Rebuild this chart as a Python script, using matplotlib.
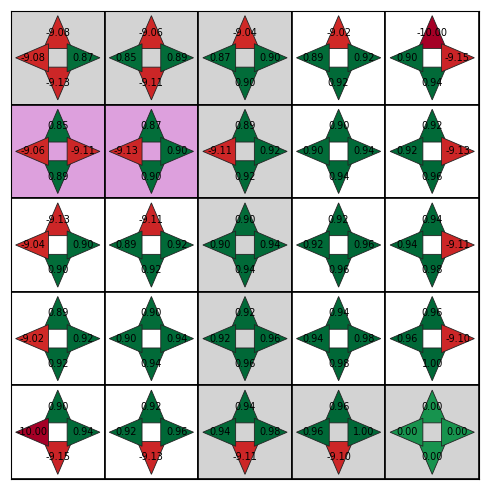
import matplotlib
matplotlib.use("Agg")
import matplotlib.pyplot as plt
import numpy as np
from matplotlib.patches import Polygon, Rectangle

# Q values per cell, rows from top to bottom
q_up = [
    [-9.08, -9.06, -9.04, -9.02, -10.00],
    [0.85, 0.87, 0.89, 0.90, 0.92],
    [-9.13, -9.11, 0.90, 0.92, 0.94],
    [0.89, 0.90, 0.92, 0.94, 0.96],
    [0.90, 0.92, 0.94, 0.96, 0.00],
]
q_down = [
    [-9.13, -9.11, 0.90, 0.92, 0.94],
    [0.89, 0.90, 0.92, 0.94, 0.96],
    [0.90, 0.92, 0.94, 0.96, 0.98],
    [0.92, 0.94, 0.96, 0.98, 1.00],
    [-9.15, -9.13, -9.11, -9.10, 0.00],
]
q_left = [
    [-9.08, 0.85, 0.87, 0.89, 0.90],
    [-9.06, -9.13, -9.11, 0.90, 0.92],
    [-9.04, 0.89, 0.90, 0.92, 0.94],
    [-9.02, 0.90, 0.92, 0.94, 0.96],
    [-10.00, 0.92, 0.94, 0.96, 0.00],
]
q_right = [
    [0.87, 0.89, 0.90, 0.92, -9.15],
    [-9.11, 0.90, 0.92, 0.94, -9.13],
    [0.90, 0.92, 0.94, 0.96, -9.11],
    [0.92, 0.94, 0.96, 0.98, -9.10],
    [0.94, 0.96, 0.98, 1.00, 0.00],
]
cell_colors = [
    ["lightgray", "lightgray", "lightgray", "white", "white"],
    ["plum", "plum", "lightgray", "white", "white"],
    ["white", "white", "lightgray", "white", "white"],
    ["white", "white", "lightgray", "white", "white"],
    ["white", "white", "lightgray", "lightgray", "lightgray"],
]

n_rows, n_cols = 5, 5
allq = np.array([q_up, q_down, q_left, q_right])
cmap = plt.get_cmap("RdYlGn")
norm = plt.Normalize(allq.min(), allq.max())

fig = plt.figure(figsize=(4.9, 4.9), dpi=100)
ax = fig.add_axes([0.0224, 0.0224, 0.9552, 0.9552])

s = 0.1    # half size of centre square
w = 0.15   # half width of arrow base
t = 0.45   # distance of arrow tip
lo = 0.27  # label offset

for r in range(n_rows):
    for c in range(n_cols):
        ax.add_patch(Rectangle((c, r), 1, 1, facecolor=cell_colors[r][c],
                               edgecolor="black", lw=1.2, zorder=1))
        cx, cy = c + 0.5, r + 0.5
        # y axis is inverted: "up" is smaller y
        arrows = [
            (q_up[r][c], [(cx, cy - t), (cx - w, cy - s), (cx + w, cy - s)], (cx, cy - lo)),
            (q_down[r][c], [(cx, cy + t), (cx - w, cy + s), (cx + w, cy + s)], (cx, cy + lo)),
            (q_left[r][c], [(cx - t, cy), (cx - s, cy - w), (cx - s, cy + w)], (cx - lo, cy)),
            (q_right[r][c], [(cx + t, cy), (cx + s, cy - w), (cx + s, cy + w)], (cx + lo, cy)),
        ]
        for val, pts, _ in arrows:
            ax.add_patch(Polygon(pts, closed=True, facecolor=cmap(norm(val)),
                                 edgecolor="#222222", lw=0.6, zorder=2))
        for val, _, (tx, ty) in arrows:
            ax.text(tx, ty, f"{val:.2f}", ha="center", va="center",
                    fontsize=7, zorder=3)

ax.set_xlim(0, n_cols)
ax.set_ylim(n_rows, 0)
ax.set_xticks([])
ax.set_yticks([])
ax.set_aspect("equal")

fig.savefig("out.png", dpi=100)
